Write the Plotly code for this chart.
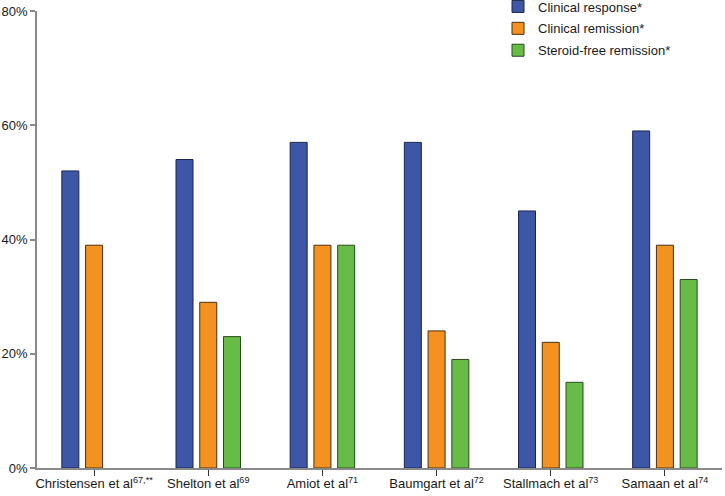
import plotly.graph_objects as go

categories = [
    "Christensen et al<sup>67,**</sup>",
    "Shelton et al<sup>69</sup>",
    "Amiot et al<sup>71</sup>",
    "Baumgart et al<sup>72</sup>",
    "Stallmach et al<sup>73</sup>",
    "Samaan et al<sup>74</sup>",
]
clinical_response = [52, 54, 57, 57, 45, 59]
clinical_remission = [39, 29, 39, 24, 22, 39]
steroid_free_remission = [None, 23, 39, 19, 15, 33]

series_names = ["Clinical response*", "Clinical remission*", "Steroid-free remission*"]
y_ticks = [0, 20, 40, 60, 80]
y_tick_labels = ["0%", "20%", "40%", "60%", "80%"]

colors = ["#3d57a6", "#f39221", "#67bc48"]
outlines = ["#1c2550", "#4a3010", "#2c4a1e"]

fig = go.Figure()
for i, (name, vals) in enumerate(zip(series_names,
                                     [clinical_response, clinical_remission, steroid_free_remission])):
    fig.add_trace(go.Bar(
        x=categories, y=vals, name=name,
        marker=dict(color=colors[i], line=dict(color=outlines[i], width=1)),
        legendgroup=f"g{i}",
    ))

fig.update_layout(
    width=725, height=496,
    margin=dict(l=37, r=3, t=11, b=28, autoexpand=False),
    paper_bgcolor="white", plot_bgcolor="white",
    barmode="group", bargap=0.376, bargroupgap=0.284,
    font=dict(family="Liberation Sans, Arial, sans-serif", size=13, color="#1a1a1a"),
    showlegend=True,
    legend=dict(
        x=0.673, xanchor="left", y=1.0427, yanchor="top",
        bgcolor="rgba(0,0,0,0)", traceorder="grouped", tracegroupgap=2,
        font=dict(size=13),
    ),
    xaxis=dict(
        automargin=False,
        showline=True, linecolor="#8a8a8a", linewidth=1.5,
        ticks="outside", ticklen=6, tickcolor="#333", tickwidth=1,
        ticklabelstandoff=-3,
        showgrid=False, zeroline=False,
    ),
    yaxis=dict(
        automargin=False,
        range=[0, 80], tickvals=y_ticks, ticktext=y_tick_labels,
        showline=True, linecolor="#8a8a8a", linewidth=1.5,
        ticks="outside", ticklen=5, tickcolor="#8a8a8a", tickwidth=1.5,
        showgrid=False, zeroline=False,
    ),
)

fig.write_html("out.html", config={"displayModeBar": False},
               post_script="document.body.style.margin='0';")
